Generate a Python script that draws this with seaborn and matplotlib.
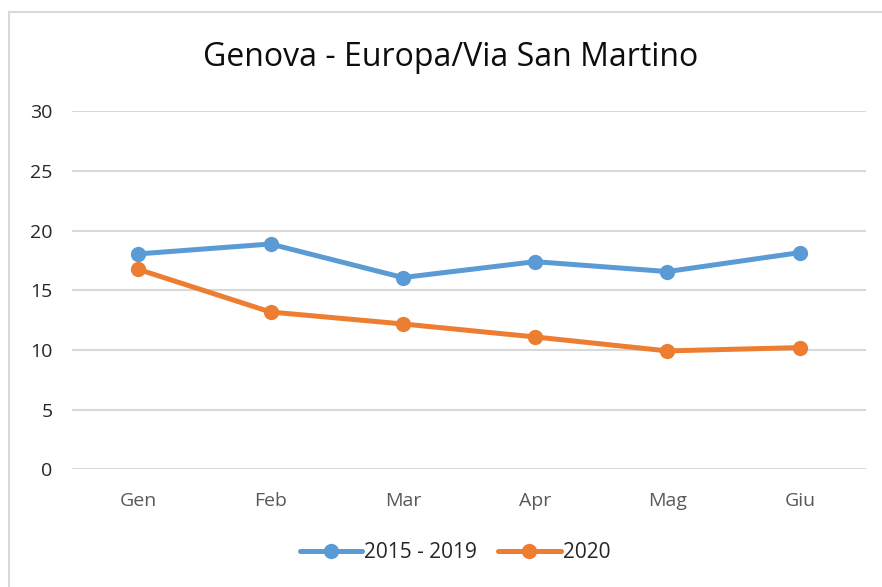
import matplotlib
matplotlib.use("Agg")
import matplotlib.pyplot as plt
import seaborn as sns
import pandas as pd
from matplotlib.patches import Rectangle

months = ["Gen", "Feb", "Mar", "Apr", "Mag", "Giu"]
avg_2015_2019 = [18.05, 18.88, 16.07, 17.4, 16.57, 18.16]
val_2020 = [16.76, 13.18, 12.18, 11.09, 9.92, 10.2]
series_names = ["2015 - 2019", "2020"]
colors = ["#5B9BD5", "#ED7D31"]

df = pd.DataFrame({
    "mese": months * 2,
    "valore": avg_2015_2019 + val_2020,
    "serie": [series_names[0]] * len(months) + [series_names[1]] * len(months),
})

sns.set_style("white")
plt.rcParams["font.family"] = ["Open Sans", "DejaVu Sans"]

fig = plt.figure(figsize=(8.82, 5.87), dpi=100)
ax = fig.add_axes([72 / 882, 1 - 469.3 / 587, (866 - 72) / 882, (469.3 - 111.3) / 587])

sns.lineplot(data=df, x="mese", y="valore", hue="serie", palette=colors,
             marker="o", markersize=11, markeredgewidth=0, linewidth=3.6,
             sort=False, ax=ax)

ax.set_xlim(-0.5, 5.5)
ax.set_ylim(0, 30)
ax.set_yticks(range(0, 31, 5))
ax.yaxis.grid(True, color="#D9D9D9", linewidth=1.5)
ax.set_axisbelow(True)
for s in ax.spines.values():
    s.set_visible(False)
ax.set_xlabel("")
ax.set_ylabel("")
ax.tick_params(axis="x", colors="#595959", labelsize=14, length=0, pad=16)
ax.tick_params(axis="y", colors="#262626", labelsize=14, length=0, pad=14)

fig.text(451 / 882, 1 - 57 / 587, "Genova - Europa/Via San Martino", ha="center", va="center",
         fontsize=23, color="#0D0D0D")

handles, labels = ax.get_legend_handles_labels()
ax.legend(handles, labels, loc="center", bbox_to_anchor=(455 / 882, 1 - 553 / 587),
          bbox_transform=fig.transFigure, ncol=2, frameon=False, fontsize=15,
          handlelength=3.0, handletextpad=0.1, columnspacing=1.0, labelcolor="#262626")

fig.patches.append(Rectangle((8.5 / 882, -0.05), 1.2, 1 - 12 / 587 + 0.05,
                             transform=fig.transFigure, fill=False,
                             edgecolor="#D9D9D9", linewidth=1.5))

fig.savefig("out.png", dpi=100)
